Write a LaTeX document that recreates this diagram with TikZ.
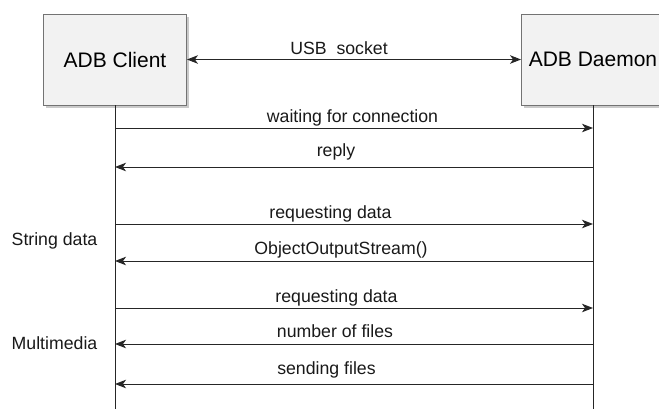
\documentclass[tikz,border=0pt]{standalone}
\usepackage{fontspec}
\setmainfont{Liberation Sans}
\usetikzlibrary{arrows.meta,shadows}

\tikzset{
  actor/.style={draw=black!55, fill=black!5, line width=0.9pt,
    minimum width=143pt, minimum height=91pt, inner sep=0pt,
    font=\fontsize{21}{24}\selectfont,
    drop shadow={shadow xshift=2.5pt, shadow yshift=-2.5pt, fill=black!35, opacity=0.6}},
  lifeline/.style={draw=black!85, line width=1pt},
  msg/.style={draw=black!85, line width=1pt,
    -{Stealth[length=11pt, width=8.5pt, inset=3pt]}},
  both/.style={draw=black!85, line width=1pt,
    {Stealth[length=11pt, width=8.5pt, inset=3pt]}-{Stealth[length=11pt, width=8.5pt, inset=3pt]}},
  lbl/.style={inner sep=0pt, font=\fontsize{17.7}{20}\selectfont, text=black!90},
}

\begin{document}
\begin{tikzpicture}[x=1pt, y=-1pt]
  \useasboundingbox (0,0) rectangle (659,408);
  \clip (0,0) rectangle (659,408);

  % participants
  \node[actor] (cl) at (115,59.5) {ADB Client};
  \node[actor] (dm) at (593,59.5) {ADB Daemon};

  % lifelines
  \coordinate (clend) at (115,410);
  \coordinate (dmend) at (593,410);
  \draw[lifeline] (cl.south) -- (clend);
  \draw[lifeline] (dm.south) -- (dmend);

  % USB link between the two boxes
  \draw[both] (cl.east) -- (dm.west);
  \node[lbl] (usb) at (339,48) {USB\ \ socket};

  % messages
  \draw[msg] (cl |- 0,128) -- (dm |- 0,128);
  \node[lbl] (m1) at (352.5,118) {waiting for connection};

  \draw[msg] (dm |- 0,167) -- (cl |- 0,167);
  \node[lbl] (m2) at (336,152) {reply};

  \draw[msg] (cl |- 0,224) -- (dm |- 0,224);
  \node[lbl] (m3) at (330.5,214) {requesting data};

  \draw[msg] (dm |- 0,261) -- (cl |- 0,261);
  \node[lbl] (m4) at (341,250) {ObjectOutputStream()};

  \draw[msg] (cl |- 0,308) -- (dm |- 0,308);
  \node[lbl] (m5) at (336.5,298) {requesting data};

  \draw[msg] (dm |- 0,344) -- (cl |- 0,344);
  \node[lbl] (m6) at (335,331) {number of files};

  \draw[msg] (dm |- 0,384) -- (cl |- 0,384);
  \node[lbl] (m7) at (326.5,370) {sending files};

  % phase captions
  \node[lbl] (sd) at (54.5,241) {String data};
  \node[lbl] (mm) at (54.5,343) {Multimedia};
\end{tikzpicture}
\end{document}
